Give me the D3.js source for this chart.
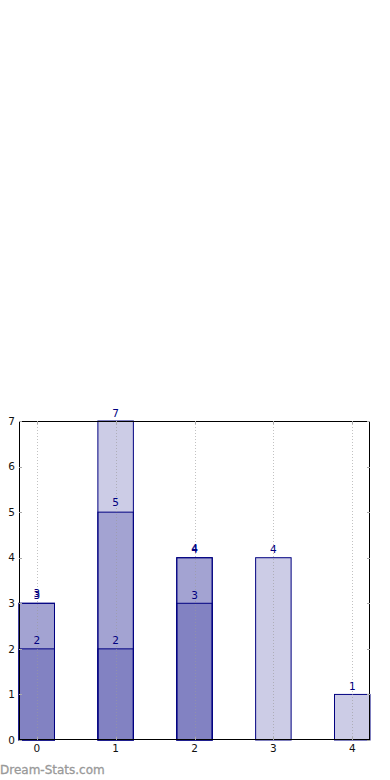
<!DOCTYPE html>
<html><head><meta charset="utf-8">
<script src="https://cdn.jsdelivr.net/npm/d3@7"></script>
<style>html,body{margin:0;padding:0;background:#fff;}svg{display:block;}</style>
</head><body>
<svg id="chart" width="390" height="780"></svg>
<script>
const categories = [0, 1, 2, 3, 4];
const seriesA = [3, 7, 4, 4, 1];
const seriesB = [3, 5, 4, null, null];
const seriesC = [2, 2, 3, null, null];
const yTicks = [0, 1, 2, 3, 4, 5, 6, 7];
const xTicks = [0, 1, 2, 3, 4];

(function () {
const svg = d3.select("#chart");
const pL = 19, pR = 370, pT = 421, pB = 740;
const x = d3.scaleLinear().domain([-0.225, 4.225]).range([pL, pR]);
const y = d3.scaleLinear().domain([0, 7]).range([pB, pT]);
const bw = x(0.45) - x(0);

const series = [seriesA, seriesB, seriesC];
series.forEach(s => {
  const data = categories.map((c, i) => ({c, v: s[i]})).filter(d => d.v != null);
  svg.append("g").selectAll("rect").data(data).enter().append("rect")
    .attr("x", d => x(d.c) - bw / 2)
    .attr("y", d => y(d.v))
    .attr("width", bw)
    .attr("height", d => y(0) - y(d.v))
    .attr("fill", "#000080").attr("fill-opacity", 0.2)
    .attr("stroke", "#000080").attr("stroke-width", 1);
});

// grid
svg.append("g").selectAll("line").data(xTicks).enter().append("line")
  .attr("x1", d => Math.round(x(d)) + 0.5).attr("x2", d => Math.round(x(d)) + 0.5)
  .attr("y1", pT).attr("y2", pB)
  .attr("stroke", "#999").attr("stroke-opacity", 0.6)
  .attr("stroke-dasharray", "1,2").attr("stroke-width", 1);

// labels
const offs = [4.5, 6, 4.5];
series.forEach((s, si) => {
  const data = categories.map((c, i) => ({c, v: s[i]})).filter(d => d.v != null);
  svg.append("g").selectAll("text").data(data).enter().append("text")
    .attr("x", d => x(d.c)).attr("y", d => y(d.v) - offs[si])
    .attr("text-anchor", "middle")
    .attr("font-family", "DejaVu Sans").attr("font-size", 10.5)
    .attr("fill", "#000080").text(d => d.v);
});

// frame
svg.append("rect").attr("x", pL + 0.5).attr("y", pT + 0.5)
  .attr("width", pR - pL - 1).attr("height", pB - pT - 1)
  .attr("fill", "none").attr("stroke", "#000").attr("stroke-width", 1);

// y ticks
const yg = svg.append("g");
yTicks.forEach(t => {
  const yy = Math.round(y(t)) + 0.5;
  yg.append("line").attr("x1", pL).attr("x2", pL + 3).attr("y1", yy).attr("y2", yy).attr("stroke", "#aaa");
  yg.append("line").attr("x1", pR - 3).attr("x2", pR).attr("y1", yy).attr("y2", yy).attr("stroke", "#aaa");
  yg.append("text").attr("x", pL - 4).attr("y", y(t)).attr("dy", "0.35em")
    .attr("text-anchor", "end").attr("font-family", "DejaVu Sans").attr("font-size", 10.5)
    .attr("fill", "#111").text(t);
});
// x ticks
const xg = svg.append("g");
xTicks.forEach(t => {
  const xx = Math.round(x(t)) + 0.5;
  xg.append("line").attr("x1", xx).attr("x2", xx).attr("y1", pB - 3).attr("y2", pB).attr("stroke", "#aaa");
  xg.append("line").attr("x1", xx).attr("x2", xx).attr("y1", pT).attr("y2", pT + 3).attr("stroke", "#aaa");
  xg.append("text").attr("x", x(t)).attr("y", pB + 12)
    .attr("text-anchor", "middle").attr("font-family", "DejaVu Sans").attr("font-size", 10.5)
    .attr("fill", "#111").text(t);
});

svg.append("text").attr("x", 0).attr("y", 774)
  .attr("font-family", "DejaVu Sans").attr("font-size", 12).attr("font-weight", "normal")
  .attr("fill", "#999").attr("stroke", "#999").attr("stroke-width", 0.3).text("Dream-Stats.com");
})();
</script>
</body></html>
